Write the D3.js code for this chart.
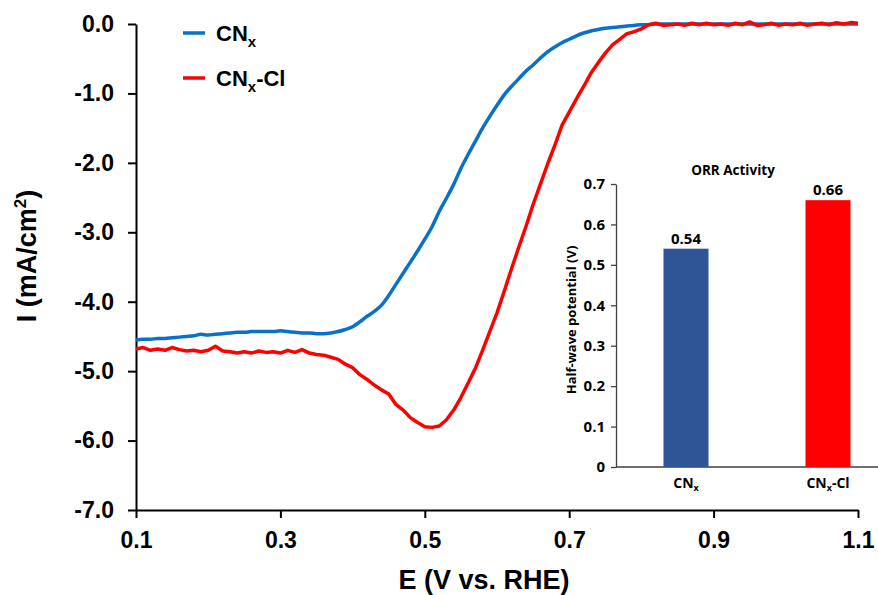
<!DOCTYPE html>
<html>
<head>
<meta charset="utf-8">
<script src="https://cdn.jsdelivr.net/npm/d3@7"></script>
<style>
  body { margin: 0; background: #fff; }
  svg { display: block; }
</style>
</head>
<body>
<div id="chart"></div>
<script>
// ---- data ----
const potential = [0.10,0.11,0.12,0.13,0.14,0.15,0.16,0.17,0.18,0.19,
  0.20,0.21,0.22,0.23,0.24,0.25,0.26,0.27,0.28,0.29,
  0.30,0.31,0.32,0.33,0.34,0.35,0.36,0.37,0.38,0.39,
  0.40,0.41,0.42,0.43,0.44,0.45,0.46,0.47,0.48,0.49,
  0.50,0.51,0.52,0.53,0.54,0.55,0.56,0.57,0.58,0.59,
  0.60,0.61,0.62,0.63,0.64,0.65,0.66,0.67,0.68,0.69,
  0.70,0.71,0.72,0.73,0.74,0.75,0.76,0.77,0.78,0.79,
  0.80,0.81,0.82,0.83,0.84,0.85,0.86,0.87,0.88,0.89,
  0.90,0.91,0.92,0.93,0.94,0.95,0.96,0.97,0.98,0.99,
  1.00,1.01,1.02,1.03,1.04,1.05,1.06,1.07,1.08,1.09,1.10];

const currentCNx = [-4.55,-4.54,-4.54,-4.53,-4.53,-4.52,-4.51,-4.50,-4.49,-4.47,
  -4.48,-4.47,-4.46,-4.45,-4.44,-4.44,-4.43,-4.43,-4.43,-4.43,
  -4.42,-4.43,-4.44,-4.45,-4.45,-4.46,-4.46,-4.45,-4.43,-4.40,
  -4.36,-4.29,-4.21,-4.14,-4.05,-3.91,-3.75,-3.59,-3.43,-3.27,
  -3.10,-2.92,-2.70,-2.51,-2.31,-2.08,-1.88,-1.69,-1.50,-1.33,
  -1.17,-1.02,-0.90,-0.79,-0.68,-0.59,-0.49,-0.40,-0.33,-0.27,
  -0.22,-0.17,-0.13,-0.10,-0.08,-0.06,-0.05,-0.04,-0.03,-0.02,
  -0.01,-0.01,0.00,0.00,0.00,0.00,0.00,0.00,0.00,0.00,
  0.00,0.00,0.00,0.00,0.00,0.00,0.00,0.00,0.00,0.00,
  0.00,0.00,0.00,0.00,0.00,0.00,0.00,0.00,0.00,0.00,0.00];

const currentCNxCl = [-4.68,-4.66,-4.70,-4.68,-4.70,-4.66,-4.69,-4.71,-4.70,-4.72,
  -4.70,-4.64,-4.71,-4.72,-4.74,-4.72,-4.74,-4.71,-4.73,-4.72,
  -4.74,-4.70,-4.73,-4.69,-4.74,-4.76,-4.77,-4.80,-4.83,-4.90,
  -4.95,-5.05,-5.12,-5.20,-5.27,-5.33,-5.48,-5.56,-5.67,-5.74,
  -5.80,-5.81,-5.79,-5.70,-5.56,-5.38,-5.17,-4.96,-4.70,-4.43,
  -4.16,-3.85,-3.53,-3.22,-2.92,-2.60,-2.31,-2.02,-1.75,-1.46,
  -1.27,-1.08,-0.90,-0.71,-0.56,-0.42,-0.30,-0.22,-0.14,-0.11,
  -0.07,-0.01,0.01,-0.02,-0.01,0.00,-0.02,0.01,-0.01,0.01,
  -0.01,0.00,-0.02,0.01,-0.01,0.03,-0.02,-0.01,0.01,-0.02,
  0.00,-0.01,0.01,-0.02,0.00,0.01,-0.01,0.02,0.00,0.02,0.01];

const xTicks = [0.1, 0.3, 0.5, 0.7, 0.9, 1.1];
const yTicks = [0, -1, -2, -3, -4, -5, -6, -7];

// inset bar chart
const samples = ["CNx", "CNx-Cl"];
const halfWave = [0.54, 0.66];
const insetTicks = [0, 0.1, 0.2, 0.3, 0.4, 0.5, 0.6, 0.7];

const blue = "#0A72C6";
const red = "#FF0000";
const barColors = ["#2F5597", "#FF0000"];

const W = 878, H = 595;
const svg = d3.select("#chart").append("svg")
  .attr("width", W)
  .attr("height", H);

const mainFont = "'Liberation Sans', Arial, sans-serif";
const insetFont = "'Open Sans', sans-serif";

// ---- main LSV plot ----
const x = d3.scaleLinear().domain([0.1, 1.1]).range([136, 858]);
const y = d3.scaleLinear().domain([-7, 0]).range([510, 24]);

const yAxis = svg.append("g")
  .attr("transform", "translate(136,0)")
  .call(d3.axisLeft(y).tickValues(yTicks).tickSize(8).tickSizeOuter(0)
    .tickPadding(14).tickFormat(d => d.toFixed(1)));

const xAxis = svg.append("g")
  .attr("transform", "translate(0,510)")
  .call(d3.axisBottom(x).tickValues(xTicks).tickSize(8).tickSizeOuter(0)
    .tickPadding(14).tickFormat(d => d.toFixed(1)));

[xAxis, yAxis].forEach(g => {
  g.selectAll("path, line").attr("stroke", "#000").attr("stroke-width", 2);
  g.selectAll("text")
    .attr("fill", "#000")
    .style("font-family", mainFont)
    .style("font-weight", "bold")
    .style("font-size", "23px");
});

const line = d3.line()
  .x((d, i) => x(potential[i]))
  .y(d => y(d));

svg.append("path")
  .datum(currentCNx)
  .attr("fill", "none")
  .attr("stroke", blue)
  .attr("stroke-width", 3.5)
  .attr("d", line.curve(d3.curveMonotoneX));

svg.append("path")
  .datum(currentCNxCl)
  .attr("fill", "none")
  .attr("stroke", red)
  .attr("stroke-width", 3.5)
  .attr("stroke-linejoin", "round")
  .attr("d", line.curve(d3.curveLinear));

// axis titles
svg.append("text")
  .attr("x", 484).attr("y", 589)
  .attr("text-anchor", "middle")
  .style("font-family", mainFont).style("font-weight", "bold").style("font-size", "27px")
  .text("E (V vs. RHE)");

const yt = svg.append("text")
  .attr("transform", "translate(36,256) rotate(-90)")
  .attr("text-anchor", "middle")
  .style("font-family", mainFont).style("font-weight", "bold").style("font-size", "27px");
yt.append("tspan").text("I (mA/cm");
yt.append("tspan").attr("dy", -10).style("font-size", "17px").text("2");
yt.append("tspan").attr("dy", 10).text(")");

// legend
const legendItems = [
  { name: "CN", sub: "x", tail: "", color: blue, y: 33 },
  { name: "CN", sub: "x", tail: "-Cl", color: red, y: 78 }
];
legendItems.forEach(it => {
  svg.append("line")
    .attr("x1", 183).attr("x2", 205)
    .attr("y1", it.y).attr("y2", it.y)
    .attr("stroke", it.color).attr("stroke-width", 3.5);
  const t = svg.append("text")
    .attr("x", 216).attr("y", it.y + 8)
    .style("font-family", mainFont).style("font-weight", "bold").style("font-size", "22px");
  t.append("tspan").text(it.name);
  t.append("tspan").attr("dy", 6).style("font-size", "15px").text(it.sub);
  if (it.tail) t.append("tspan").attr("dy", -6).text(it.tail);
});

// ---- inset bar chart ----
const ix = d3.scaleBand().domain(samples).range([615, 899]).padding(0);
const iy = d3.scaleLinear().domain([0, 0.7]).range([467, 184]);
const barW = 45;

const iyAxis = svg.append("g")
  .attr("transform", "translate(616,0)")
  .call(d3.axisLeft(iy).tickValues(insetTicks).tickSize(5).tickSizeOuter(0)
    .tickPadding(6).tickFormat(d => d === 0 ? "0" : d.toFixed(1)));
iyAxis.selectAll("path, line").attr("stroke", "#404040").attr("stroke-width", 1.3);
iyAxis.selectAll("text")
  .attr("fill", "#000")
  .style("font-family", insetFont).style("font-weight", "bold").style("font-size", "15px");

svg.append("line")
  .attr("x1", 616).attr("x2", 878)
  .attr("y1", iy(0)).attr("y2", iy(0))
  .attr("stroke", "#404040").attr("stroke-width", 1.3);

svg.selectAll(".bar")
  .data(samples)
  .join("rect")
  .attr("class", "bar")
  .attr("x", d => ix(d) + ix.bandwidth() / 2 - barW / 2)
  .attr("width", barW)
  .attr("y", (d, i) => iy(halfWave[i]))
  .attr("height", (d, i) => iy(0) - iy(halfWave[i]))
  .attr("fill", (d, i) => barColors[i]);

svg.selectAll(".barval")
  .data(samples)
  .join("text")
  .attr("class", "barval")
  .attr("x", d => ix(d) + ix.bandwidth() / 2)
  .attr("y", (d, i) => iy(halfWave[i]) - 5)
  .attr("text-anchor", "middle")
  .style("font-family", insetFont).style("font-weight", "bold").style("font-size", "15px")
  .text((d, i) => halfWave[i].toFixed(2));

samples.forEach(s => {
  const t = svg.append("text")
    .attr("x", ix(s) + ix.bandwidth() / 2)
    .attr("y", 488)
    .attr("text-anchor", "middle")
    .style("font-family", insetFont).style("font-weight", "bold").style("font-size", "14px");
  t.append("tspan").text("CN");
  t.append("tspan").attr("dy", 3).style("font-size", "9px").text("x");
  if (s.length > 3) t.append("tspan").attr("dy", -3).text(s.slice(3));
});

svg.append("text")
  .attr("x", 733).attr("y", 175)
  .attr("text-anchor", "middle")
  .style("font-family", insetFont).style("font-weight", "bold").style("font-size", "13.5px")
  .text("ORR Activity");

svg.append("text")
  .attr("transform", "translate(576,320) rotate(-90)")
  .attr("text-anchor", "middle")
  .style("font-family", insetFont).style("font-weight", "bold").style("font-size", "13px")
  .text("Half-wave potential (V)");
</script>
</body>
</html>
